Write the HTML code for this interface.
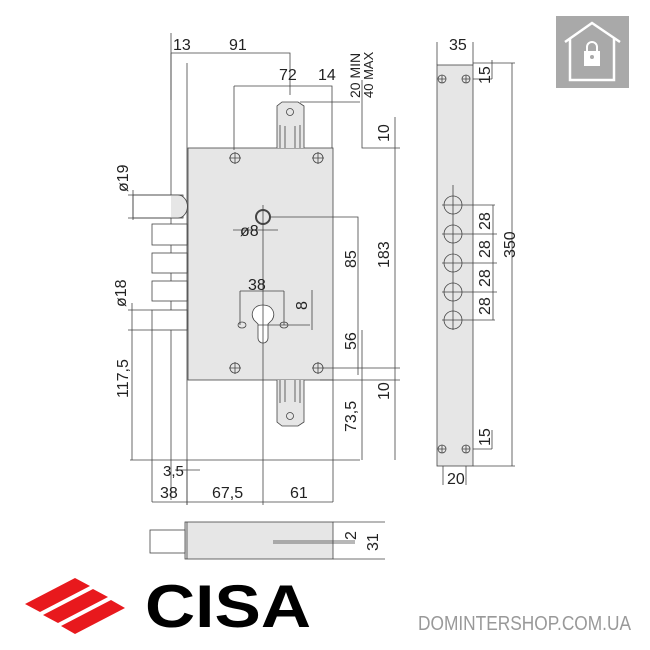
<!DOCTYPE html>
<html><head><meta charset="utf-8"><style>
body{margin:0;background:#fff}
svg{display:block}
text{font-family:"Liberation Sans",sans-serif;fill:#222}
</style></head><body>
<svg width="650" height="650" viewBox="0 0 650 650" xmlns="http://www.w3.org/2000/svg">
<g stroke="#444" stroke-width="0.8" fill="none">
<line x1="171" y1="53" x2="171" y2="500"/>
<line x1="187" y1="63" x2="187" y2="505"/>
<rect x="188" y="148" width="145" height="232" fill="#e6e6e6"/>
<path d="M277 148 V106 L282 102 H298 L304 106 V148" fill="#e6e6e6"/>
<path d="M280 148 V125 M285 148 V126 M295 148 V126 M300 148 V125"/>
<path d="M277 380 V422 L282 426 H298 L304 422 V380" fill="#e6e6e6"/>
<path d="M280 380 V403 M285 380 V402 M295 380 V402 M300 380 V403"/>
<circle cx="290" cy="112" r="3.5"/><circle cx="290" cy="416" r="3.5"/>
<rect x="133" y="195" width="50" height="23" fill="#fff"/>
<path d="M171 195 H178 A9 11 0 0 1 178 218 H171" fill="#e6e6e6"/>
<rect x="152" y="224" width="35" height="21" fill="#fff"/>
<rect x="152" y="253" width="35" height="20" fill="#fff"/>
<rect x="152" y="281" width="35" height="20" fill="#fff"/>
<rect x="152" y="310" width="35" height="20" fill="#fff"/>
<circle cx="235" cy="158" r="5"/><circle cx="318" cy="158" r="5"/>
<circle cx="235" cy="368" r="5"/><circle cx="318" cy="368" r="5"/>
<path d="M229 158h12M235 152v12M312 158h12M318 152v12M229 368h12M235 362v12M312 368h12M318 362v12"/>
<circle cx="263" cy="217" r="7" stroke-width="2"/>
<path d="M263 305 C253 305 250 314 254 320 L258 324 V338 A5 5 0 0 0 268 338 V324 L272 320 C276 314 273 305 263 305Z" fill="#fff"/>
<ellipse cx="242" cy="325" rx="4" ry="3"/><ellipse cx="284" cy="325" rx="4" ry="3"/>
<line x1="263" y1="205" x2="263" y2="505"/>
<path d="M171 33 V100 M171 53 H290 V95 M234 86 H332 V148 M234 86 V150 M300 102 H360 M362 80 V148 H400 M395 117 V460"/>
<path d="M270 217 H358 V375 M323 368 H400 M320 380 H400 M362 330 V460"/>
<path d="M240 291 V325 M284 291 V325 M240 291 H284 M258 325 H310 M312 290 V330"/>
<path d="M233 230 H278"/>
<path d="M133 190 V220 M128 195 H171 M128 218 H171"/>
<path d="M132 303 V460 M128 310 H152 M128 330 H152"/>
<path d="M130 460 H360 M152 330 V502 M187 505 V460 M333 380 V502 M152 502 H333 M175 470 H200"/>
<rect x="185" y="522" width="148" height="37" fill="#e6e6e6"/>
<line x1="187" y1="522" x2="187" y2="559"/>
<rect x="150" y="530" width="35" height="23" fill="#fff"/>
<path d="M333 522 H385 M333 559 H385 M273 541 H355 M273 543 H355"/>
<rect x="437" y="65" width="36" height="401" fill="#e6e6e6"/>
<path d="M437 42 V65 M473 42 V65 M473 63 H515 M473 466 H515 M512 63 V466 M473 79 H492 M492 60 V79 M473 449 H492 M492 430 V449 M443 466 V485 M466 466 V485"/>
<circle cx="442" cy="79" r="4"/><circle cx="466" cy="79" r="4"/>
<circle cx="442" cy="449" r="4"/><circle cx="466" cy="449" r="4"/>
<path d="M438 79h8M442 75v8M462 79h8M466 75v8M438 449h8M442 445v8M462 449h8M466 445v8"/>
<circle cx="453" cy="205" r="9"/><circle cx="453" cy="234" r="9"/><circle cx="453" cy="263" r="9"/><circle cx="453" cy="292" r="9"/><circle cx="453" cy="320" r="9"/>
<path d="M453 185 V330 M442 205 H495 M442 234 H497 M442 263 H497 M442 292 H497 M442 320 H495 M493 205 V320"/>
</g>
<g font-size="16">
<text x="173" y="50">13</text>
<text x="229" y="50">91</text>
<text x="279" y="80">72</text>
<text x="318" y="80">14</text>
<text x="163" y="476" font-size="15">3,5</text>
<text x="160" y="498">38</text>
<text x="212" y="498">67,5</text>
<text x="290" y="498">61</text>
<text x="248" y="290">38</text>
<text x="240" y="236">ø8</text>
<text x="449" y="50">35</text>
<text x="447" y="484">20</text>
<text transform="translate(360,98) rotate(-90)" font-size="14">20 MIN</text>
<text transform="translate(373,98) rotate(-90)" font-size="13">40 MAX</text>
<text transform="translate(389,142) rotate(-90)">10</text>
<text transform="translate(389,268) rotate(-90)">183</text>
<text transform="translate(356,268) rotate(-90)">85</text>
<text transform="translate(356,350) rotate(-90)">56</text>
<text transform="translate(389,400) rotate(-90)">10</text>
<text transform="translate(356,432) rotate(-90)">73,5</text>
<text transform="translate(307,310) rotate(-90)">8</text>
<text transform="translate(128,192) rotate(-90)">ø19</text>
<text transform="translate(126,307) rotate(-90)">ø18</text>
<text transform="translate(128,398) rotate(-90)">117,5</text>
<text transform="translate(356,540) rotate(-90)">2</text>
<text transform="translate(378,551) rotate(-90)">31</text>
<text transform="translate(490,84) rotate(-90)">15</text>
<text transform="translate(490,446) rotate(-90)">15</text>
<text transform="translate(490,230) rotate(-90)">28</text>
<text transform="translate(490,258) rotate(-90)">28</text>
<text transform="translate(490,287) rotate(-90)">28</text>
<text transform="translate(490,315) rotate(-90)">28</text>
<text transform="translate(515,258) rotate(-90)">350</text>
</g>
<rect x="556" y="16" width="73" height="72" fill="#a9a9a9"/>
<path d="M565 42 L592 23 L620 42 M570 38 V80 H614 V38" stroke="#fff" stroke-width="2.5" fill="none"/>
<rect x="584" y="51" width="16" height="15" fill="#fff"/>
<path d="M587 51 V47 A5 5 0 0 1 597 47 V51" stroke="#fff" stroke-width="2" fill="none"/>
<circle cx="592" cy="57" r="2" fill="#a9a9a9"/>
<g fill="#e8191d">
<polygon points="25,604 75,578 90,586 40,612"/>
<polygon points="43,615 93,589 108,597 58,623"/>
<polygon points="61,626 111,600 125,608 75,634"/>
</g>
<text x="145" y="627" font-size="60" font-weight="bold" style="fill:#000" textLength="166" lengthAdjust="spacingAndGlyphs">CISA</text>
<text x="418" y="630" font-size="20" style="fill:#999" textLength="213" lengthAdjust="spacingAndGlyphs">DOMINTERSHOP.COM.UA</text>
</svg>
</body></html>
